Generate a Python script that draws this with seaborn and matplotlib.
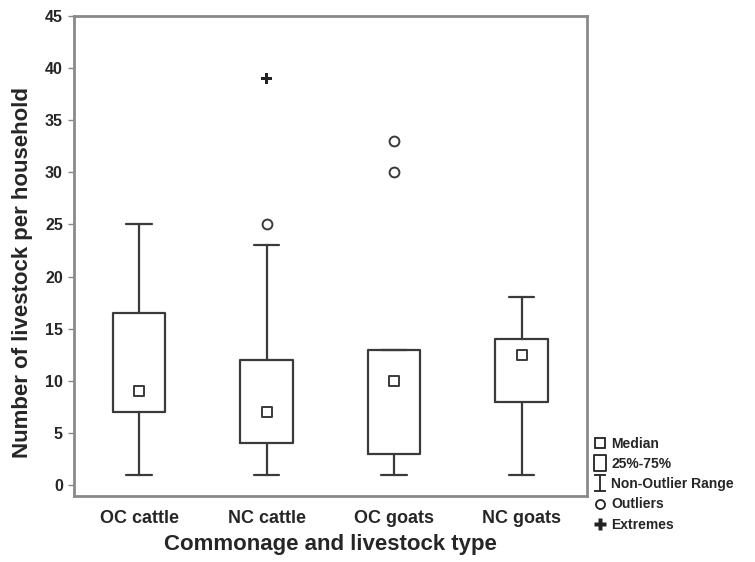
import matplotlib
matplotlib.use("Agg")
import matplotlib.pyplot as plt
from matplotlib.lines import Line2D
from matplotlib.path import Path
import seaborn as sns
import pandas as pd

# ---- data ----
categories = ["OC cattle", "NC cattle", "OC goats", "NC goats"]
medians = [9.0, 7.0, 10.0, 12.5]
q25 = [7.0, 4.0, 3.0, 8.0]
q75 = [16.5, 12.0, 13.0, 14.0]
whisk_lo = [1.0, 1.0, 1.0, 1.0]
whisk_hi = [25.0, 23.0, 13.0, 18.0]
outlier_cat = ["NC cattle", "OC goats", "OC goats"]
outlier_val = [25.0, 30.0, 33.0]
extreme_cat = ["NC cattle"]
extreme_val = [39.0]
yticks = [0, 5, 10, 15, 20, 25, 30, 35, 40, 45]

sns.set_theme(style="white")
plt.rcParams["font.family"] = ["Liberation Sans", "DejaVu Sans"]
plt.rcParams["font.weight"] = "bold"

fig = plt.figure(figsize=(7.55, 5.62), dpi=100)
ax = fig.add_axes([0.098, 0.1174, 0.679, 0.8541])

box_col = "#3a3a3a"
stats = []
for i, c in enumerate(categories):
    stats.append(dict(label=c, med=medians[i], q1=q25[i], q3=q75[i],
                      whislo=whisk_lo[i], whishi=whisk_hi[i], fliers=[]))
ax.bxp(stats, positions=range(len(categories)), widths=0.41, showfliers=False,
       patch_artist=False,
       boxprops=dict(color=box_col, linewidth=1.6),
       whiskerprops=dict(color=box_col, linewidth=1.6),
       capprops=dict(color=box_col, linewidth=1.6),
       medianprops=dict(linewidth=0),
       capwidths=0.2, manage_ticks=False)

med_df = pd.DataFrame({"cat": categories, "val": medians})
sns.scatterplot(data=med_df, x="cat", y="val", marker="s", s=60,
                facecolor="white", edgecolor=box_col, linewidth=1.4, ax=ax, zorder=5)
out_df = pd.DataFrame({"cat": outlier_cat, "val": outlier_val})
sns.scatterplot(data=out_df, x="cat", y="val", marker="o", s=50,
                facecolor="white", edgecolor=box_col, linewidth=1.4, ax=ax, zorder=5)
ext_df = pd.DataFrame({"cat": extreme_cat, "val": extreme_val})
sns.scatterplot(data=ext_df, x="cat", y="val", marker="P", s=70,
                color="#222222", edgecolor="none", ax=ax, zorder=5)

ax.set_xlim(-0.51, 3.51)
ax.set_ylim(-1.05, 45)
ax.set_xticks(range(len(categories)))
ax.set_xticklabels(categories, fontsize=13, fontweight="bold")
ax.set_yticks(yticks)
ax.set_yticklabels([str(t) for t in yticks], fontsize=11.5, fontweight="bold")
ax.tick_params(axis="y", direction="out", length=4, width=1, color="#888888", left=True, pad=4)
ax.tick_params(axis="x", length=0, pad=10)
for sp in ax.spines.values():
    sp.set_color("#8a8a8a")
    sp.set_linewidth(2)
ax.set_xlabel("Commonage and livestock type", fontsize=16, fontweight="bold", labelpad=5)
ax.set_ylabel("Number of livestock per household", fontsize=16, fontweight="bold")
ax.yaxis.set_label_coords(-0.08, 0.465)

# legend
rect = Path([(-0.37, -0.5), (0.37, -0.5), (0.37, 0.5), (-0.37, 0.5), (-0.37, -0.5)],
            [Path.MOVETO, Path.LINETO, Path.LINETO, Path.LINETO, Path.CLOSEPOLY])
ipath = Path([(-0.4, 0.5), (0.4, 0.5), (0, 0.5), (0, -0.5), (-0.4, -0.5), (0.4, -0.5)],
             [Path.MOVETO, Path.LINETO, Path.MOVETO, Path.LINETO, Path.MOVETO, Path.LINETO])
handles = [
    Line2D([], [], ls="", marker="s", markersize=7, mfc="white", mec="#222222", mew=1.3),
    Line2D([], [], ls="", marker=rect, markersize=12, mfc="white", mec="#222222", mew=1.3),
    Line2D([], [], ls="", marker=ipath, markersize=11, mfc="none", mec="#222222", mew=1.3),
    Line2D([], [], ls="", marker="o", markersize=6.5, mfc="white", mec="#222222", mew=1.3),
    Line2D([], [], ls="", marker="P", markersize=8, mfc="#222222", mec="none"),
]
labels = ["Median", "25%-75%", "Non-Outlier Range", "Outliers", "Extremes"]
fig.legend(handles, labels, loc="upper left", bbox_to_anchor=(0.782, 0.228),
           frameon=False, prop=dict(size=10, weight="bold"), handlelength=1.0,
           handletextpad=0.3, labelspacing=0.45, borderpad=0.2, borderaxespad=0)

fig.savefig("out.png", dpi=100)
